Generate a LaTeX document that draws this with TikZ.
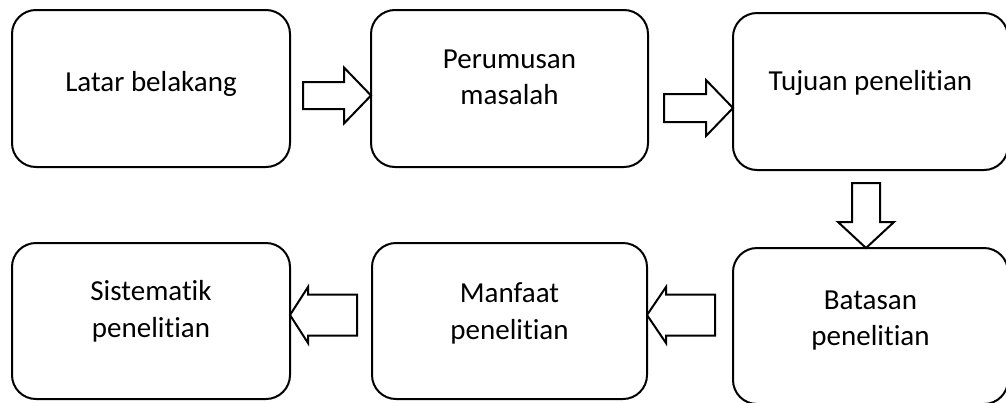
\documentclass[tikz,border=0pt]{standalone}
\usepackage{fontspec}
\setmainfont{Carlito}[RawFeature={-liga;-dlig;-clig}]
\usetikzlibrary{positioning,calc}

\tikzset{
  shaft half/.store in=\shafthalf, shaft half=14pt,
  head half/.store in=\headhalf, head half=28pt,
  head len/.store in=\headlen, head len=27pt,
  fat arrow/.style={draw, line width=2pt, fill=white, line join=miter,
    to path={let \p1=($(\tikztotarget)-(\tikztostart)$),
                 \n1={veclen(\x1,\y1)}, \n2={atan2(\y1,\x1)} in
      {[shift={(\tikztostart)}, rotate=\n2]
        (0pt,-\shafthalf) -- ({\n1-\headlen},-\shafthalf) -- ({\n1-\headlen},-\headhalf)
        -- (\n1,0pt) -- ({\n1-\headlen},\headhalf) -- ({\n1-\headlen},\shafthalf)
        -- (0pt,\shafthalf) -- cycle}}}
}

\begin{document}
\begin{tikzpicture}[x=1pt, y=-1pt,
    box/.style={draw, line width=2pt, rounded corners=24pt, minimum width=278pt,
      minimum height=157pt, outer sep=0pt, inner sep=0pt},
    boxtext/.style={font=\fontsize{29}{36.5}\selectfont, align=center}
]
\useasboundingbox (0,0) rectangle (1006,402);

% upper row
\node[box, label={[boxtext,yshift=5pt]center:Latar belakang}] (b1) at (151,88.5) {};
\node[box, right=81pt of b1, minimum width=277pt,
  label={[boxtext,yshift=11pt]center:Perumusan\\masalah}] (b2) {};
\node[box, right=85pt of b2, yshift=-3pt, minimum width=275pt,
  label={[boxtext,yshift=9pt]center:Tujuan penelitian}] (b3) {};

% lower row
\node[box, below=78pt of b3, minimum width=275pt, minimum height=156pt,
  label={[boxtext,yshift=5.5pt]center:Batasan\\penelitian}] (b4) {};
\node[box, below=76pt of b1, minimum height=156pt,
  label={[boxtext,yshift=9.5pt]center:Sistematik\\penelitian}] (b6) {};
\node[box, right=82pt of b6, minimum width=275pt, minimum height=156pt,
  label={[boxtext,yshift=7.5pt]center:Manfaat\\penelitian}] (b5) {};

% block arrows
\coordinate (t1) at (303,95.5);
\coordinate (t2) at (664,108);
\coordinate (t3) at (866,183);
\coordinate (t4) at (715,315);
\coordinate (t5) at (357,315);

\draw[fat arrow, shaft half=13.5pt] (t1) to (b2.west |- t1);
\draw[fat arrow] (t2) to (b3.west |- t2);
\draw[fat arrow, head len=26pt] (t3) to (b4.north -| t3);
\draw[fat arrow, shaft half=20.5pt, head len=19pt] (t4) to (b5.east |- t4);
\draw[fat arrow, shaft half=20.5pt, head len=18pt] (t5) to (b6.east |- t5);

\end{tikzpicture}
\end{document}
